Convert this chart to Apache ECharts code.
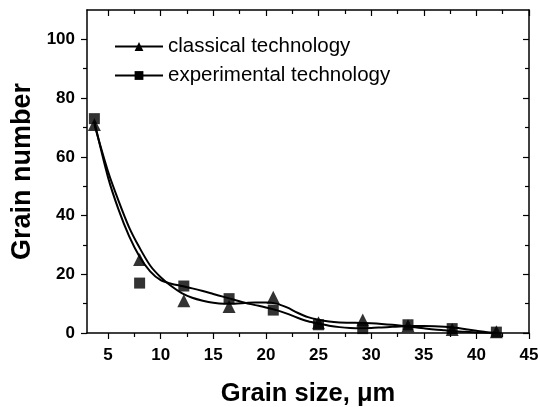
<!DOCTYPE html>
<html>
<head>
<meta charset="utf-8">
<script src="https://cdn.jsdelivr.net/npm/echarts@6/dist/echarts.min.js"></script>
<style>
  html, body { margin: 0; padding: 0; background: #fff; }
  #chart { width: 540px; height: 407px; }
</style>
</head>
<body>
<div id="chart"></div>
<script>
// measured points
var grainSize = [3.7, 8, 12.2, 16.5, 20.7, 25, 29.2, 33.5, 37.7, 41.9]
var classical = [71, 25, 11, 9, 12.2, 3.5, 4.4, 2.5, 1.2, 0.4]
var experimental = [73, 17, 16, 11.7, 7.8, 2.8, 1.5, 2.8, 1.5, 0.3]

// fitted curves
var fitX = [3.7, 5, 6, 7, 8, 9, 10, 11, 12, 13, 14, 15, 16, 17, 18, 19, 20, 21, 22, 23, 24, 25, 26, 27, 28, 29, 30, 31, 32, 33, 34, 35, 36, 37, 38, 39, 40, 41, 41.9]
var classicalFit = [71, 55, 45, 36, 29, 23, 19, 16, 13.6, 12, 11, 10.3, 10, 10, 10.2, 10.4, 10.4, 10, 8.7, 6.9, 5.4, 4.5, 3.9, 3.6, 3.5, 3.4, 3.3, 3.1, 2.8, 2.4, 2, 1.6, 1.2, 0.9, 0.6, 0.4, 0.2, 0.1, 0]
var experimentalFit = [72, 53, 42, 33, 26, 21, 18, 16.8, 16, 15.2, 14.3, 13.3, 12.3, 11.3, 10.3, 9.5, 8.7, 7.8, 6.6, 5.2, 4, 3.2, 2.5, 2, 1.7, 1.6, 1.7, 1.9, 2.1, 2.3, 2.4, 2.4, 2.3, 2.1, 1.8, 1.3, 0.8, 0.3, 0]

// tick labels
var xMajor = [5, 10, 15, 20, 25, 30, 35, 40, 45]
var xMinor = [7.5, 12.5, 17.5, 22.5, 27.5, 32.5, 37.5, 42.5]
var yMajor = [0, 20, 40, 60, 80, 100]
var yMinor = [10, 30, 50, 70, 90]

var font = '"Liberation Sans", Arial, sans-serif'
var axisLine = { show: true, onZero: false, lineStyle: { color: '#000', width: 1.5 } }

function xAx(pos, vals, len, inside, main) {
  return {
    type: 'value', position: pos, min: 3, max: 45,
    axisLine: main ? axisLine : { show: false, onZero: false },
    axisTick: { show: true, customValues: vals, length: len, inside: inside, lineStyle: { color: '#000', width: 1.2 } },
    axisLabel: { show: false },
    splitLine: { show: false }
  }
}
function yAx(pos, vals, len, inside, main) {
  return {
    type: 'value', position: pos, min: 0, max: 110,
    axisLine: main ? axisLine : { show: false, onZero: false },
    axisTick: { show: true, customValues: vals, length: len, inside: inside, lineStyle: { color: '#000', width: 1.2 } },
    axisLabel: { show: false },
    splitLine: { show: false }
  }
}

var myChart = echarts.init(document.getElementById('chart'))

var xBottom = xAx('bottom', xMajor, 6, false, true)
xBottom.axisLabel = { show: true, customValues: xMajor, margin: 14, color: '#000', fontSize: 17, fontWeight: 'bold', fontFamily: font }
xBottom.name = 'Grain size, \u03bcm'
xBottom.nameLocation = 'middle'
xBottom.nameGap = 48
xBottom.nameTextStyle = { color: '#000', fontSize: 25.5, fontWeight: 'bold', fontFamily: font }

var yLeft = yAx('left', yMajor, 6, false, true)
yLeft.axisLabel = { show: true, customValues: yMajor, margin: 12, color: '#000', fontSize: 17, fontWeight: 'bold', fontFamily: font }
yLeft.name = 'Grain number'
yLeft.nameLocation = 'middle'
yLeft.nameGap = 51
yLeft.nameTextStyle = { color: '#000', fontSize: 27, fontWeight: 'bold', fontFamily: font }

var option = {
  animation: false,
  backgroundColor: '#fff',
  grid: { left: 87, right: 11, top: 10, bottom: 74, containLabel: false, outerBoundsMode: 'none' },
  legend: {
    orient: 'vertical',
    left: 109,
    top: 31,
    itemWidth: 48,
    itemHeight: 11,
    itemGap: 8,
    data: ['classical technology', 'experimental technology'],
    textStyle: { color: '#000', fontSize: 20.5, fontFamily: font }
  },
  xAxis: [
    xBottom,
    xAx('bottom', xMinor, 4, false, false),
    xAx('top', xMajor, 6, true, true),
    xAx('top', xMinor, 4, true, false)
  ],
  yAxis: [
    yLeft,
    yAx('left', yMinor, 4, false, false),
    yAx('right', yMajor, 6, true, true),
    yAx('right', yMinor, 4, true, false)
  ],
  series: [
    {
      name: 'classical technology',
      type: 'line',
      smooth: 0.3,
      symbol: 'triangle',
      showSymbol: false,
      lineStyle: { color: '#000', width: 2 },
      itemStyle: { color: '#000' },
      data: fitX.map(function (x, i) { return [x, classicalFit[i]] })
    },
    {
      name: 'experimental technology',
      type: 'line',
      smooth: 0.3,
      symbol: 'rect',
      showSymbol: false,
      lineStyle: { color: '#000', width: 2 },
      itemStyle: { color: '#000' },
      data: fitX.map(function (x, i) { return [x, experimentalFit[i]] })
    },
    {
      name: 'classical technology',
      type: 'scatter',
      symbol: 'triangle',
      symbolSize: 13,
      itemStyle: { color: '#000' },
      data: grainSize.map(function (x, i) { return [x, classical[i]] })
    },
    {
      name: 'experimental technology',
      type: 'scatter',
      symbol: 'rect',
      symbolSize: 11,
      itemStyle: { color: '#000' },
      data: grainSize.map(function (x, i) { return [x, experimental[i]] })
    }
  ]
}

myChart.setOption(option)
window.addEventListener('resize', function () { myChart.resize() })
</script>
</body>
</html>
